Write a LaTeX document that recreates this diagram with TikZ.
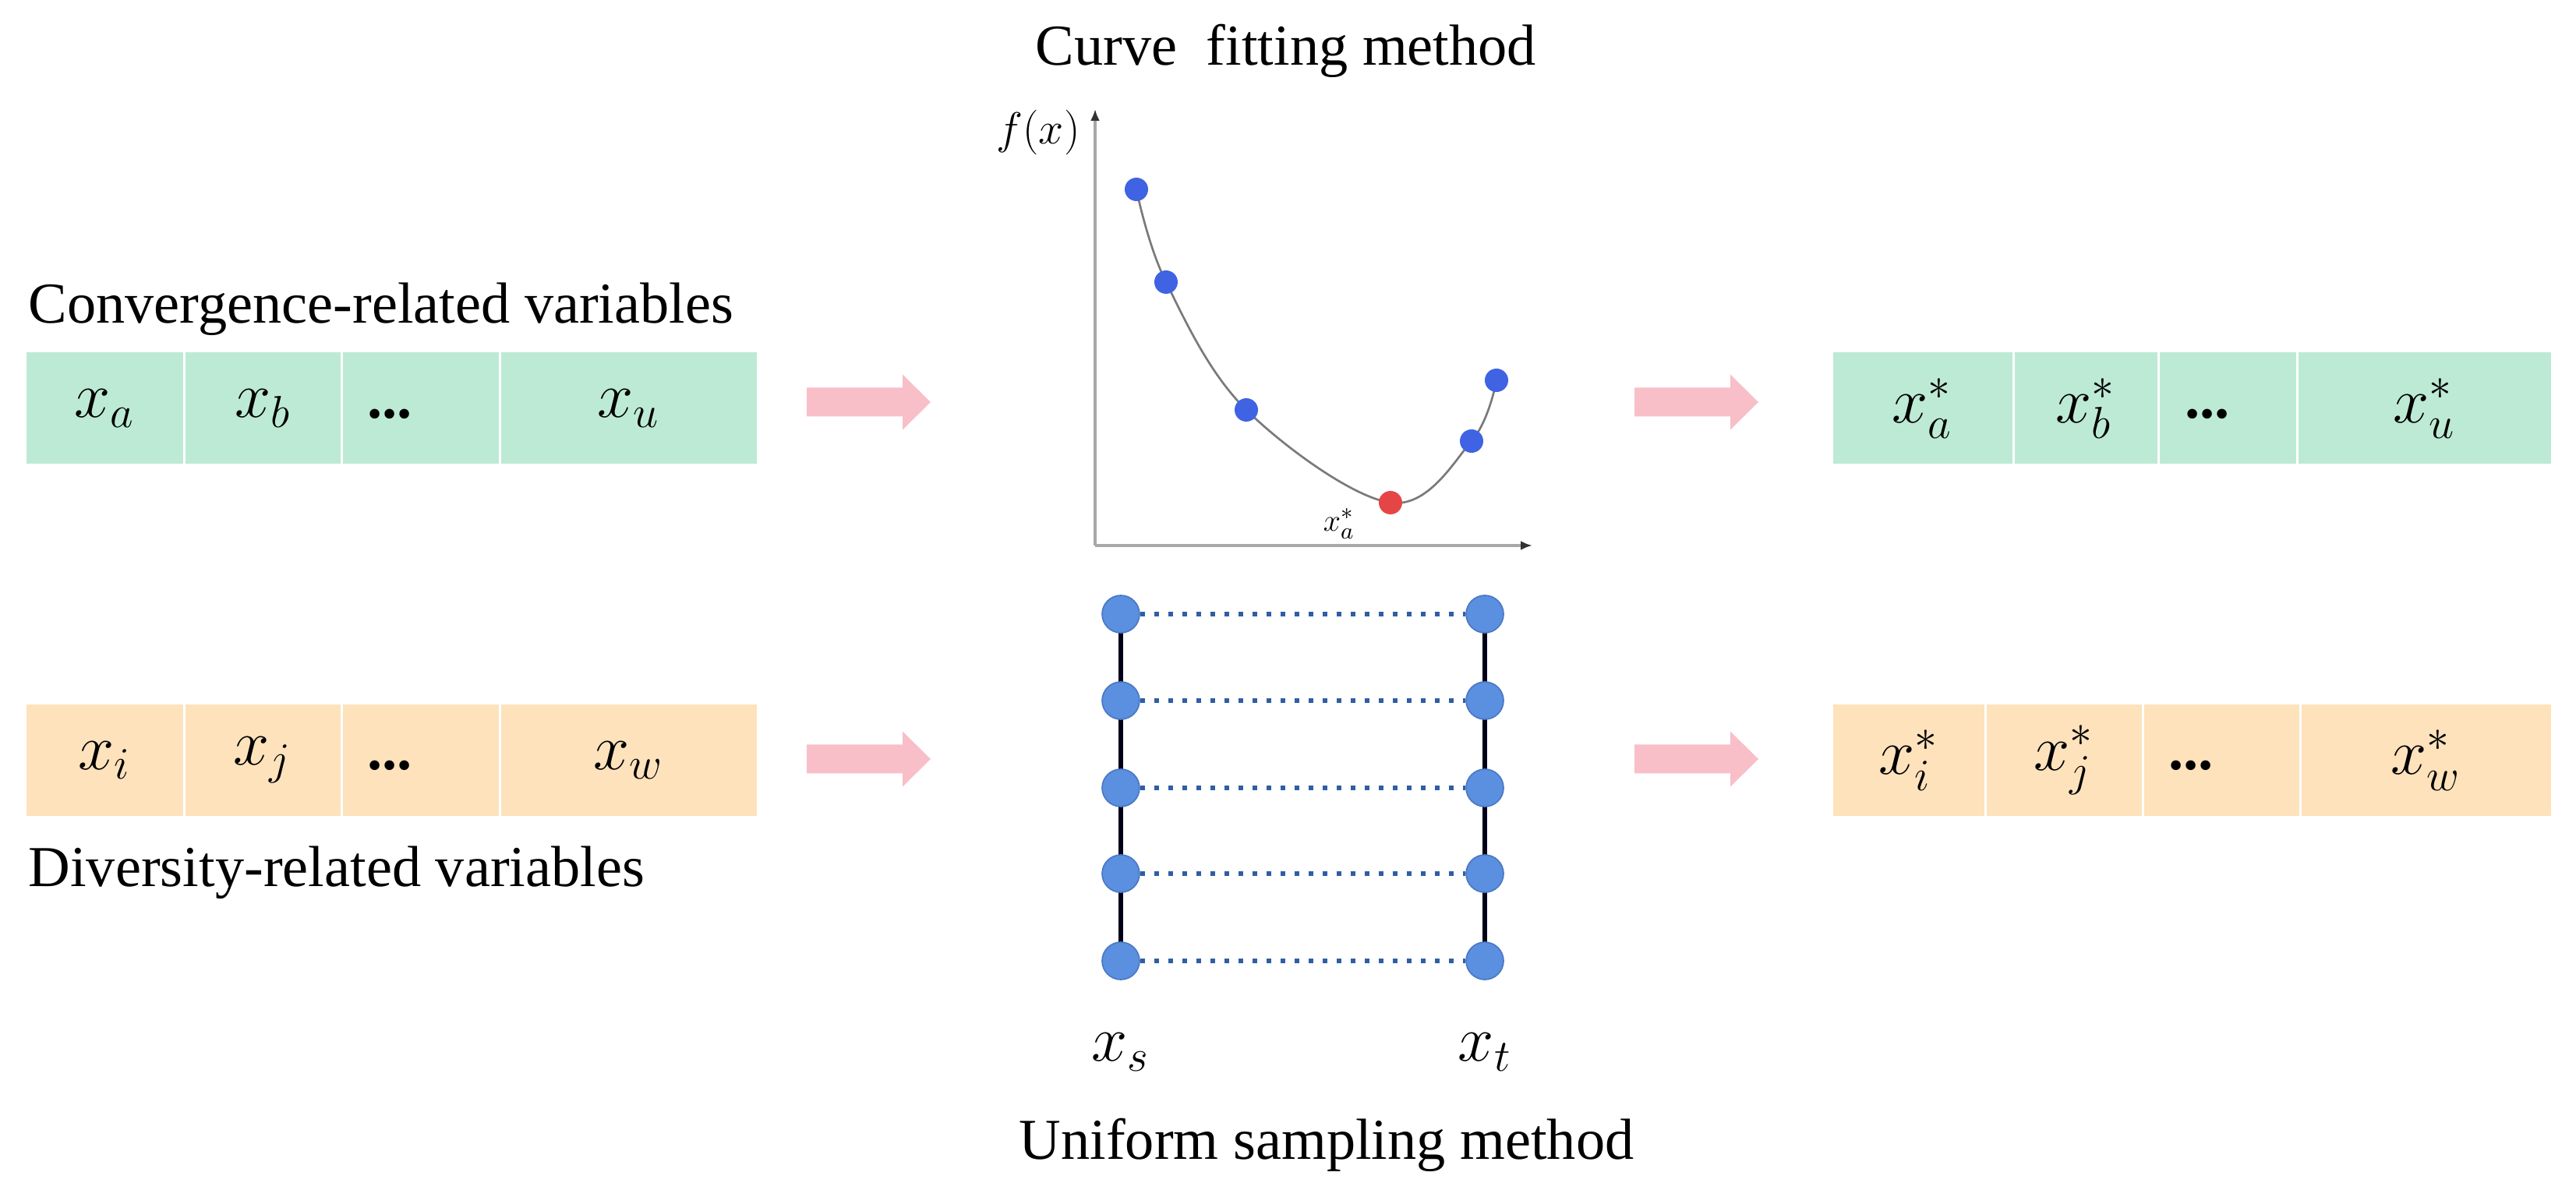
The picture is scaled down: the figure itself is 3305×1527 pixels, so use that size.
\documentclass[tikz,border=0pt]{standalone}
\usepackage{fontspec}
\setmainfont{Liberation Serif}
\usetikzlibrary{arrows.meta}
\definecolor{cgreen}{HTML}{BDEAD5}
\definecolor{corange}{HTML}{FDE2BC}
\definecolor{cpink}{HTML}{F8BFC9}
\definecolor{cblue}{HTML}{3F63E3}
\definecolor{cred}{HTML}{E64545}
\definecolor{cdot}{HTML}{2F5EA6}
\definecolor{ccirc}{HTML}{5B8FE0}
\definecolor{ccircedge}{HTML}{4A78C4}
\definecolor{caxis}{HTML}{A8A8A8}
\definecolor{ccurve}{HTML}{7A7A7A}
\newcommand{\pinkarrow}[2]{%
  \fill[cpink] (#1,#2) ++(0,-18.5) -- ++(123,0) -- ++(0,-17) -- ++(36,35.5)
    -- ++(-36,35.5) -- ++(0,-17) -- ++(-123,0) -- cycle;}
\begin{document}
\begin{tikzpicture}[x=0.3pt,y=-0.3pt,
  cell/.style={draw=white, line width=0.9pt, inner sep=0pt, minimum height=43.8pt,
    font=\fontsize{26pt}{30pt}\selectfont},
  gcell/.style={cell, fill=cgreen},
  ocell/.style={cell, fill=corange},
  dotstxt/.style={anchor=base, inner sep=0pt, font=\fontsize{23pt}{26pt}\selectfont\bfseries},
  lbl/.style={inner sep=0pt, font=\fontsize{22.3pt}{26pt}\selectfont},
  bpt/.style={circle, fill=cblue, inner sep=0pt, minimum size=9pt},
  rpt/.style={circle, fill=cred, inner sep=0pt, minimum size=9pt},
  samp/.style={circle, fill=ccirc, draw=ccircedge, line width=0.5pt, inner sep=0pt, minimum size=14.4pt},
  vline/.style={line width=1.6pt, black!90!blue},
  dotline/.style={line width=1.7pt, cdot, dash pattern=on 1.7pt off 3.7pt},
  axisline/.style={line width=1.2pt, caxis, -{Latex[length=4.5pt,width=3.6pt,color=black!80]}},
  curveline/.style={line width=0.8pt, ccurve}
]
\useasboundingbox (0,0) rectangle (3305,1527);
\fill[white] (0,0) rectangle (3305,1527);

% titles and labels
\node[lbl, anchor=base] (title1) at (1650,84) {Curve\ \ fitting method};
\node[lbl, anchor=base] (title2) at (1702,1487) {Uniform sampling method};
\node[lbl, anchor=base west] (conv) at (36,415) {Convergence-related variables};
\node[lbl, anchor=base west] (div) at (36,1138) {Diversity-related variables};

% left green row
\node[gcell, minimum width=61.2pt] (ga) at (134,524) {$x_a$};
\node[gcell, minimum width=60.6pt] (gb) at (337,524) {$x_b$};
\node[gcell, minimum width=60.9pt] (gc) at (539.5,524) {};
\node[gcell, minimum width=99.3pt] (gu) at (806.5,524) {$x_u$};
\node[dotstxt] (gdots) at (500,537) {...};

% left orange row
\node[ocell, minimum width=61.2pt] (oi) at (134,975.5) {$x_i$};
\node[ocell, minimum width=60.6pt] (oj) at (337,975.5) {$x_j$};
\node[ocell, minimum width=60.9pt] (oc) at (539.5,975.5) {};
\node[ocell, minimum width=99.3pt] (ow) at (806.5,975.5) {$x_w$};
\node[dotstxt] (odots) at (500,988) {...};

% right green row
\node[gcell, minimum width=69.9pt] (Ga) at (2466.5,524) {$x_a^*$};
\node[gcell, minimum width=55.8pt] (Gb) at (2676,524) {$x_b^*$};
\node[gcell, minimum width=53.4pt] (Gc) at (2858,524) {};
\node[gcell, minimum width=98.1pt] (Gu) at (3110.5,524) {$x_u^*$};
\node[dotstxt] (Gdots) at (2832,537) {...};

% right orange row
\node[ocell, minimum width=59.1pt] (Oi) at (2448.5,975.5) {$x_i^*$};
\node[ocell, minimum width=60.6pt] (Oj) at (2648,975.5) {$x_j^*$};
\node[ocell, minimum width=60.6pt] (Oc) at (2850,975.5) {};
\node[ocell, minimum width=96.9pt] (Ow) at (3112.5,975.5) {$x_w^*$};
\node[dotstxt] (Odots) at (2811,988) {...};

% pink arrows
\pinkarrow{1035}{516}
\pinkarrow{1035}{974}
\pinkarrow{2097}{516}
\pinkarrow{2097}{974}

% chart
\coordinate (O) at (1405,700);
\coordinate (ytop) at (1405,140);
\coordinate (xend) at (1966,700);
\draw[axisline] (O) -- (ytop);
\draw[axisline] (O) -- (xend);
\node[inner sep=0pt, font=\fontsize{19pt}{22pt}\selectfont] (fx) at (1332,170) {$f(x)$};
\coordinate (c1) at (1458,243);
\coordinate (c2) at (1496,362);
\coordinate (c3) at (1599,526);
\coordinate (cm) at (1784,645);
\coordinate (c4) at (1888,566);
\coordinate (c5) at (1920,488);
\draw[curveline] plot[smooth, tension=0.6] coordinates {(c1) (c2) (c3) (cm) (c4) (c5)};
\node[bpt] (p1) at (c1) {};
\node[bpt] (p2) at (c2) {};
\node[bpt] (p3) at (c3) {};
\node[rpt] (pm) at (cm) {};
\node[bpt] (p4) at (c4) {};
\node[bpt] (p5) at (c5) {};
\node[inner sep=0pt, font=\fontsize{12.5pt}{14pt}\selectfont] (xstar) at (1718,672) {$x_a^*$};

% sampling
\foreach \i/\yy in {1/788,2/899,3/1011,4/1121,5/1233}{
  \coordinate (sc\i) at (1438,\yy);
  \coordinate (tc\i) at (1905,\yy);
}
\draw[vline] (sc1) -- (sc5);
\draw[vline] (tc1) -- (tc5);
\foreach \i in {1,...,5}{
  \node[samp] (s\i) at (sc\i) {};
  \node[samp] (t\i) at (tc\i) {};
  \draw[dotline] (s\i) -- (t\i);
}
\node[inner sep=0pt, font=\fontsize{24pt}{27pt}\selectfont] (xs) at (1438,1350) {$x_s$};
\node[inner sep=0pt, font=\fontsize{24pt}{27pt}\selectfont] (xt) at (1905,1350) {$x_t$};
\end{tikzpicture}
\end{document}
